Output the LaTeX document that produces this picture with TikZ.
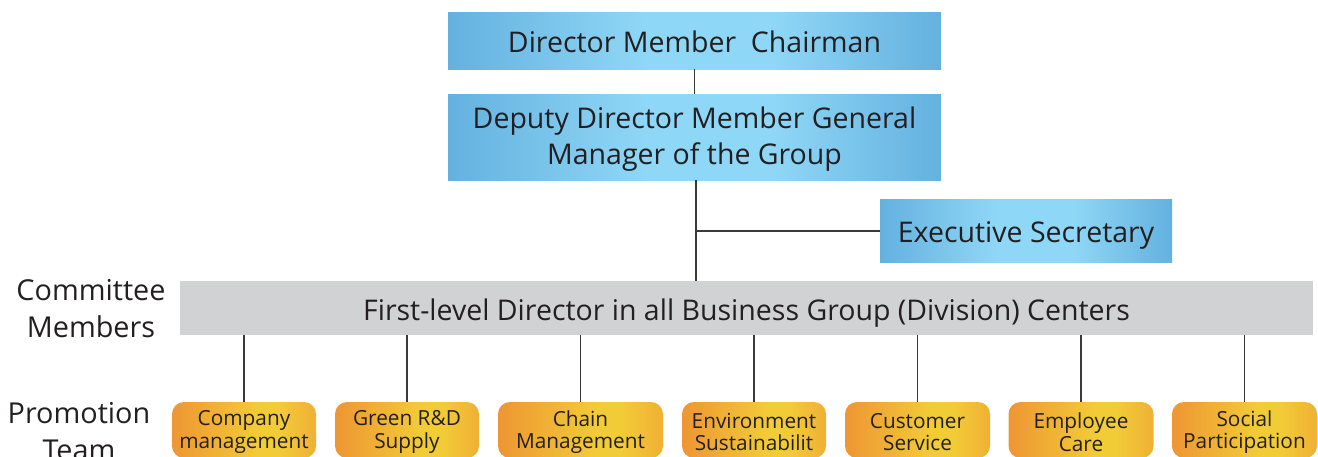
\documentclass[tikz,border=0pt]{standalone}
\usepackage{fontspec}
\setmainfont{Open Sans}
\definecolor{txt}{HTML}{231F20}
\definecolor{bEdge}{HTML}{64B1E0}
\definecolor{bMid}{HTML}{8FD7F6}
\definecolor{oLeft}{HTML}{EE9633}
\definecolor{oMid}{HTML}{F2CC37}
\definecolor{oRight}{HTML}{F0B035}
\definecolor{barGray}{HTML}{D1D2D4}
\definecolor{lineC}{HTML}{3A3A3A}
\pgfdeclarehorizontalshading{blueshade}{100bp}{color(0bp)=(bEdge); color(25bp)=(bEdge); color(45bp)=(bMid); color(58bp)=(bMid); color(75bp)=(bEdge); color(100bp)=(bEdge)}
\pgfdeclarehorizontalshading{orangeshade}{100bp}{color(0bp)=(oLeft); color(25bp)=(oLeft); color(55bp)=(oMid); color(62bp)=(oMid); color(75bp)=(oRight); color(100bp)=(oRight)}
\tikzset{
  bluebox/.style={shading=blueshade, draw=none, inner sep=0pt},
  btext/.style={text=txt, align=center, inner sep=0pt, font=\fontsize{28.5}{36}\selectfont},
  orangebox/.style={shading=orangeshade, draw=none, rounded corners=12pt, inner sep=0pt, minimum height=56pt},
  olabel/.style={text=txt, align=center, inner sep=0pt, font=\fontsize{20.8}{22.5}\selectfont},
  sidelabel/.style={text=txt, align=center, inner sep=0pt, font=\fontsize{28.8}{37}\selectfont},
  conn/.style={draw=lineC, line width=1.1pt}
}
\begin{document}
\begin{tikzpicture}[x=1pt,y=-1pt]
\useasboundingbox (0,0) rectangle (1318,456);
\clip (0,0) rectangle (1318,456);
% top boxes
\node[bluebox, minimum width=493pt, minimum height=57pt] (chair) at (694.5,40.5) {};
\node[btext, anchor=base] (chairT) at (694.5,52) {Director Member\ \ Chairman};
\node[bluebox, minimum width=493pt, minimum height=86pt] (deputy) at (694.5,137) {};
\node[btext] (deputyT) at (694.5,139) {Deputy Director Member General\\Manager of the Group};
\node[bluebox, minimum width=292pt, minimum height=63pt] (sec) at (1026,230.5) {};
\node[btext, anchor=base] (secT) at (1026,242) {Executive Secretary};
% gray bar
\node[fill=barGray, minimum width=1133pt, minimum height=54pt, inner sep=0pt] (bar) at (746.5,308) {};
\node[btext, anchor=base] (barT) at (746.5,320) {First-level Director in all Business Group (Division) Centers};
% side labels
\node[sidelabel] (cm) at (91,309) {Committee\\Members};
\node[sidelabel] (pt) at (79,432) {Promotion\\Team};
% connectors top
\draw[conn] (chair.south) -- (deputy.north);
\coordinate (j) at (696,231);
\draw[conn] (deputy.south -| j) -- (bar.north -| j);
\draw[conn] (j) -- (sec.west |- j);
% orange boxes
\foreach \n/\x/\w/\t in {o1/244/144/{Company\\management}, o2/407/144/{Green R\&D\\Supply}, o3/580.5/165/{Chain\\Management}, o4/754/144/{Environment\\Sustainabilit}, o5/917.5/145/{Customer\\Service}, o6/1081/145/{Employee\\Care}, o7/1244.5/145/{Social\\Participation}}{
  \node[orangebox, minimum width=\w pt] (\n) at (\x,430) {};
  \node[olabel] (\n t) at (\x,432) {\t};
  \draw[conn] (\n.north) -- (\n.north |- bar.south);
}
\end{tikzpicture}
\end{document}
